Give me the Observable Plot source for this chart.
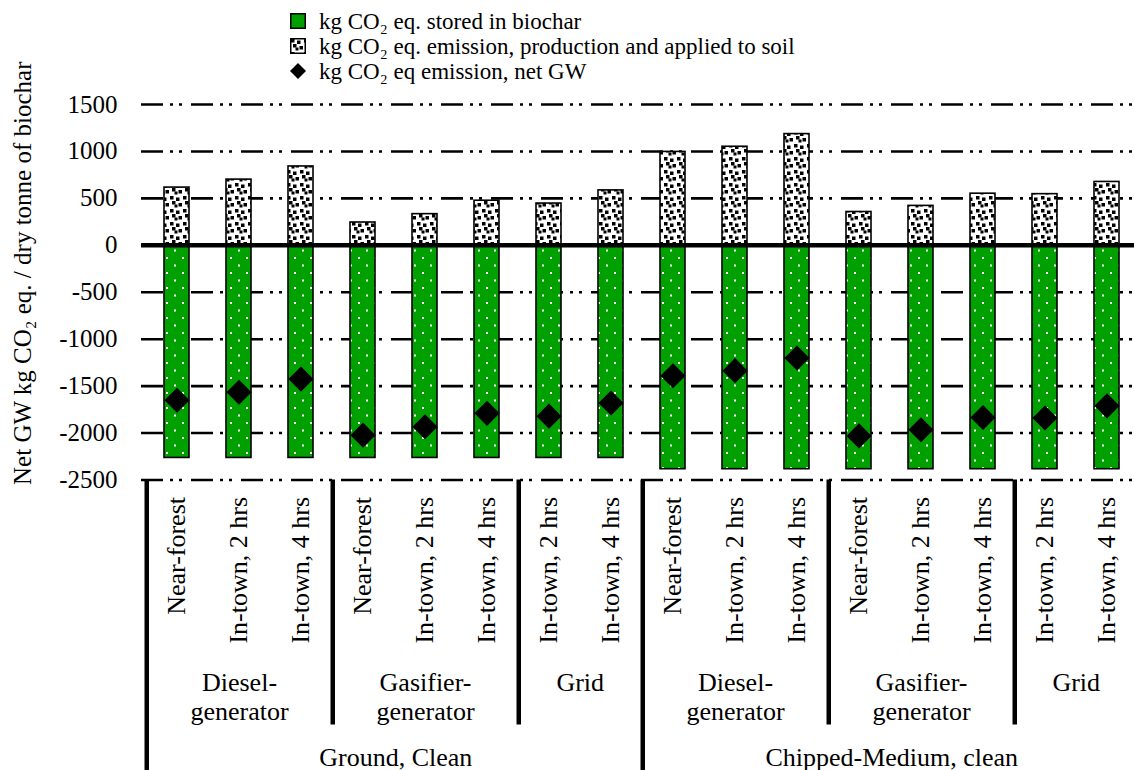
<!DOCTYPE html>
<html>
<head>
<meta charset="utf-8">
<script src="https://cdn.jsdelivr.net/npm/d3@7"></script>
<script src="https://cdn.jsdelivr.net/npm/@observablehq/plot@0.6"></script>
<style>
  html, body { margin: 0; padding: 0; background: #fff; overflow: hidden; }
  #wrap { position: relative; width: 1134px; height: 770px; font-family: "Liberation Serif", "Times New Roman", serif; color: #000; }
  #legend { position: absolute; left: 0; top: 0; width: 1134px; height: 95px; font-size: 23px; }
  #legend .row { position: absolute; left: 319px; white-space: nowrap; line-height: 1; }
  #legend svg { position: absolute; overflow: visible; }
</style>
</head>
<body>
<!-- fill patterns shared by the bars and the legend swatches -->
<svg width="0" height="0" style="position:absolute">
  <defs>
    <pattern id="stored-fill" patternUnits="userSpaceOnUse" width="16" height="15">
      <rect width="16" height="15" fill="#00a000"/>
      <rect x="6" y="2" width="2" height="2" fill="#fff"/>
      <rect x="14" y="9.5" width="2" height="2" fill="#fff"/>
    </pattern>
    <pattern id="emission-fill" patternUnits="userSpaceOnUse" width="13" height="13">
      <rect width="13" height="13" fill="#fff"/>
      <rect x="1" y="1" width="3.5" height="3.5" fill="#000"/>
      <rect x="7" y="2.5" width="3.5" height="3.5" fill="#000"/>
      <rect x="3" y="6" width="3.5" height="3.5" fill="#000"/>
      <rect x="9.5" y="8" width="3.5" height="3.5" fill="#000"/>
      <rect x="5.5" y="9.5" width="3" height="3" fill="#000"/>
    </pattern>
  </defs>
</svg>
<div id="wrap"></div>
<script>
// ---- data ----------------------------------------------------------------
const feedstock = [
  "Ground, Clean", "Ground, Clean", "Ground, Clean", "Ground, Clean",
  "Ground, Clean", "Ground, Clean", "Ground, Clean", "Ground, Clean",
  "Chipped-Medium, clean", "Chipped-Medium, clean", "Chipped-Medium, clean", "Chipped-Medium, clean",
  "Chipped-Medium, clean", "Chipped-Medium, clean", "Chipped-Medium, clean", "Chipped-Medium, clean"
];
const powerSource = [
  "Diesel-\ngenerator", "Diesel-\ngenerator", "Diesel-\ngenerator",
  "Gasifier-\ngenerator", "Gasifier-\ngenerator", "Gasifier-\ngenerator",
  "Grid", "Grid",
  "Diesel-\ngenerator", "Diesel-\ngenerator", "Diesel-\ngenerator",
  "Gasifier-\ngenerator", "Gasifier-\ngenerator", "Gasifier-\ngenerator",
  "Grid", "Grid"
];
const siteLabels = [
  "Near-forest", "In-town, 2 hrs", "In-town, 4 hrs",
  "Near-forest", "In-town, 2 hrs", "In-town, 4 hrs",
  "In-town, 2 hrs", "In-town, 4 hrs",
  "Near-forest", "In-town, 2 hrs", "In-town, 4 hrs",
  "Near-forest", "In-town, 2 hrs", "In-town, 4 hrs",
  "In-town, 2 hrs", "In-town, 4 hrs"
];
// kg CO2 eq. stored in biochar (negative = removed)
const storedCO2 = [-2265, -2265, -2265, -2265, -2265, -2265, -2265, -2265,
                   -2385, -2385, -2385, -2385, -2385, -2385, -2385, -2385];
// kg CO2 eq. emission, production and applied to soil
const emissionCO2 = [615, 700, 840, 243, 332, 475, 445, 585,
                     995, 1050, 1185, 355, 420, 550, 545, 675];
// kg CO2 eq. emission, net GW
const netGW = [-1650, -1565, -1425, -2022, -1933, -1790, -1820, -1680,
               -1390, -1335, -1200, -2030, -1965, -1835, -1840, -1710];
const yTicks = [1500, 1000, 500, 0, -500, -1000, -1500, -2000, -2500];
const yTitle = "Net GW kg CO\u2082 eq. / dry tonne of biochar";

// ---- table ---------------------------------------------------------------
const rows = siteLabels.map((site, i) => ({
  i, site, feedstock: feedstock[i], power: powerSource[i],
  stored: storedCO2[i], emission: emissionCO2[i], net: netGW[i]
}));

// consecutive runs of bars sharing a key (used for the two-level category axis)
function runs(key, label) {
  const out = [];
  rows.forEach((d, i) => {
    const k = key(d), prev = out[out.length - 1];
    if (prev && prev.key === k) prev.last = i;
    else out.push({key: k, label: label(d), first: i, last: i});
  });
  return out;
}
const groupRuns = runs(d => d.feedstock, d => d.feedstock);
const subRuns = runs(d => d.feedstock + "|" + d.power, d => d.power);
const groupStarts = new Set(groupRuns.map(g => g.first));
const subSeparators = subRuns.filter(s => !groupStarts.has(s.first));

// ---- layout --------------------------------------------------------------
const xRange = [141, 1141];
const paddingInner = 0.6, paddingOuter = 0.3;
const step = (xRange[1] - xRange[0]) / (rows.length - paddingInner + 2 * paddingOuter);
const yDomain = [d3.min(yTicks), d3.max(yTicks)];
const font = "'Liberation Serif', 'Times New Roman', serif";

const centered = (run, opts) =>
  Plot.text([run], {x: "first", text: "label", dx: (run.last - run.first) * step / 2,
                    frameAnchor: "bottom", fontFamily: font, fontSize: 26, ...opts});

const chart = Plot.plot({
  width: 1134,
  height: 770,
  marginLeft: 141,
  marginRight: 0,
  marginTop: 104,
  marginBottom: 290.5,
  style: `font-family: ${font}; font-size: 25px; background: transparent; overflow: visible;`,
  x: {type: "band", domain: rows.map(d => d.i), range: xRange, paddingInner, paddingOuter, axis: null},
  y: {domain: yDomain, axis: null},
  marks: [
    // dash-dot-dot gridlines
    Plot.gridY(yTicks, {stroke: "#000", strokeOpacity: 1, strokeWidth: 2.6,
                        strokeDasharray: "22,7,3,6,3,9"}),
    Plot.axisY(yTicks, {tickSize: 0, tickPadding: 24, tickFormat: d => String(d),
                        fontSize: 25, fontFamily: font, fontVariant: "normal", label: null}),
    // stacked bars: stored carbon below zero, emissions above
    Plot.barY(rows, {x: "i", y1: 0, y2: "stored", fill: "url(#stored-fill)",
                     stroke: "#000", strokeWidth: 1.6}),
    Plot.barY(rows, {x: "i", y1: 0, y2: "emission", fill: "url(#emission-fill)",
                     stroke: "#000", strokeWidth: 1.6}),
    Plot.ruleY([0], {stroke: "#000", strokeWidth: 4.5}),
    // net global warming markers
    Plot.dot(rows, {x: "i", y: "net", symbol: d3.symbolDiamond2, r: 11.3,
                    fill: "#000", stroke: "none"}),
    // category labels
    Plot.text(rows, {x: "i", text: "site", frameAnchor: "bottom", rotate: -90,
                     textAnchor: "end", lineAnchor: "middle", dy: 17,
                     fontFamily: font, fontSize: 26}),
    ...subRuns.map(s => centered(s, {dy: 190, lineAnchor: "top", lineHeight: 1.12})),
    ...groupRuns.map(g => centered(g, {dy: 285.5, lineAnchor: "bottom"})),
    // separators of the two-level category axis
    Plot.ruleX(subSeparators, {x: "first", dx: -step / 2 + 1, y1: yDomain[0], y2: yDomain[0],
                               insetBottom: -245, stroke: "#000", strokeWidth: 4.5}),
    Plot.ruleX(groupRuns, {x: "first", dx: -step / 2 + 1, y1: yDomain[0], y2: yDomain[0],
                           insetBottom: -290.5, stroke: "#000", strokeWidth: 4.5}),
    // value axis title
    Plot.text([yTitle], {text: d => d, frameAnchor: "left", rotate: -90, dx: -119, dy: -19,
                         textAnchor: "middle", fontFamily: font, fontSize: 25})
  ]
});

const wrap = document.getElementById("wrap");
wrap.appendChild(chart);

// ---- legend --------------------------------------------------------------
const legendItems = [
  {label: "kg CO\u2082 eq. stored in biochar", swatch: "stored"},
  {label: "kg CO\u2082 eq. emission, production and applied to soil", swatch: "emission"},
  {label: "kg CO\u2082 eq emission, net GW", swatch: "net"}
];
const legend = d3.select(wrap).append("div").attr("id", "legend");
legendItems.forEach((item, k) => {
  const baseline = 29.3 + 25 * k;
  legend.append("div").attr("class", "row")
    .style("top", (baseline - 19.3) + "px")
    .text(item.label);
  const sw = legend.append("svg").attr("width", 16).attr("height", 16)
    .style("left", "290px").style("top", (baseline - 16) + "px");
  if (item.swatch === "net") {
    sw.append("path").attr("d", "M8,0L16,8L8,16L0,8Z").attr("fill", "#000");
  } else {
    sw.append("rect").attr("x", 0.75).attr("y", 0.75).attr("width", 14.5).attr("height", 14.5)
      .attr("fill", item.swatch === "stored" ? "#00a000" : "url(#emission-fill)")
      .attr("stroke", "#000").attr("stroke-width", 1.5);
  }
});
</script>
</body>
</html>
